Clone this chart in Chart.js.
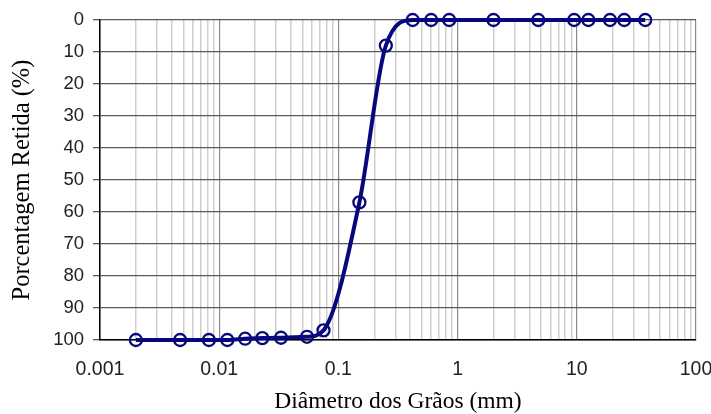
<!DOCTYPE html>
<html><head><meta charset="utf-8">
<script src="https://cdn.jsdelivr.net/npm/chart.js@4/dist/chart.umd.min.js"></script>
<style>html,body{margin:0;padding:0;background:#fff}#wrap{width:711px;height:414px}</style>
</head><body><div id="wrap"><canvas id="c" width="711" height="414"></canvas></div>
<script>
// Dados
const diametros = [0.002, 0.0047, 0.0082, 0.0117, 0.0165, 0.023, 0.033, 0.0545, 0.075, 0.15, 0.25, 0.42, 0.6, 0.85, 2.0, 4.75, 9.5, 12.5, 19, 25, 37.5];
const retida    = [100, 100, 100, 100, 99.6, 99.4, 99.3, 99.0, 97, 57, 8, 0, 0, 0, 0, 0, 0, 0, 0, 0, 0];
const decadas = [0.001, 0.01, 0.1, 1, 10, 100];
const multiplos = [2, 3, 4, 5, 6, 7, 8, 9];
const yTicks = [0, 10, 20, 30, 40, 50, 60, 70, 80, 90, 100];
const tituloX = 'Diâmetro dos Grãos (mm)';
const tituloY = 'Porcentagem Retida (%)';

const pontos = diametros.map((d, i) => ({ x: d, y: retida[i] }));
const navy = '#08087e';

new Chart(document.getElementById('c'), {
  type: 'line',
  data: {
    datasets: [{
      data: pontos,
      borderColor: navy,
      borderWidth: 4,
      pointRadius: 6,
      pointBorderWidth: 2.3,
      pointBorderColor: navy,
      pointBackgroundColor: 'rgba(0,0,0,0)',
      cubicInterpolationMode: 'monotone',
      clip: false
    }]
  },
  options: {
    responsive: false,
    animation: false,
    devicePixelRatio: 1,
    layout: { padding: { top: 20, right: 15, left: 0, bottom: 0 } },
    plugins: { legend: { display: false }, tooltip: { enabled: false } },
    scales: {
      x: {
        type: 'logarithmic',
        min: 0.001, max: 100,
        afterBuildTicks: (s) => {
          const t = [];
          decadas.forEach((d, i) => {
            t.push({ value: d });
            if (i < decadas.length - 1) multiplos.forEach(m => t.push({ value: +(d * m).toPrecision(3) }));
          });
          s.ticks = t;
        },
        afterFit: (s) => { s.height = 74; s.paddingLeft = 0; s.paddingRight = 0; },
        ticks: {
          autoSkip: false, maxRotation: 0, padding: 18,
          font: { family: 'Liberation Sans', size: 19.5 }, color: '#222',
          callback: (v) => decadas.includes(v) ? String(v) : ''
        },
        grid: {
          drawTicks: false,
          color: (ctx) => (ctx.tick && decadas.includes(ctx.tick.value)) ? '#8a8a8a' : '#cfcfcf',
          lineWidth: (ctx) => (ctx.tick && decadas.includes(ctx.tick.value)) ? 1.2 : 1.5
        },
        border: { color: '#000', width: 1.5 },
        title: {
          display: true, text: tituloX, color: '#000',
          font: { family: 'Liberation Serif', size: 23.5, lineHeight: 1 },
          padding: { top: 0, bottom: 0 }
        }
      },
      y: {
        type: 'linear', reverse: true, min: 0, max: 100,
        afterBuildTicks: (s) => { s.ticks = yTicks.map(v => ({ value: v })); },
        afterFit: (s) => { s.width = 100; s.paddingTop = 0; s.paddingBottom = 0; },
        ticks: { font: { family: 'Liberation Sans', size: 18.5 }, color: '#222', padding: 9 },
        grid: { color: '#5a5a5a', lineWidth: 1.3, tickLength: 7 },
        border: { color: '#000', width: 1.5 },
        title: {
          display: true, text: tituloY, color: '#000',
          font: { family: 'Liberation Serif', size: 24.5, lineHeight: 1 },
          padding: { top: 10, bottom: 0 }
        }
      }
    }
  }
});
</script>
</body></html>
